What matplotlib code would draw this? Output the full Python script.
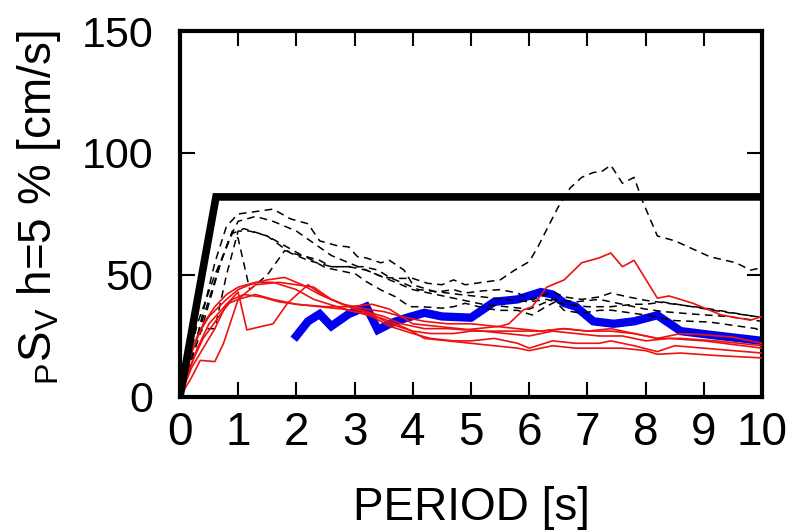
import matplotlib
matplotlib.use("Agg")
import matplotlib.pyplot as plt
from matplotlib import font_manager

# design spectrum (thick black)
design_T = [0.0, 0.62, 10.0]
design_V = [0, 82, 82]

# thick blue line
blue_T = [2.0, 2.2, 2.4, 2.6, 2.9, 3.2, 3.4, 3.65, 3.9, 4.2, 4.5, 5.0, 5.4, 5.8, 6.2,
          6.4, 6.6, 6.8, 7.1, 7.45, 7.8, 8.2, 8.6, 9.1, 10.0]
blue_V = [25, 31, 34, 29, 34, 37, 27.5, 30.5, 32.5, 34.5, 33, 32.5, 39, 40, 43,
          42, 38.5, 37, 31, 30, 31, 33.5, 27, 25.5, 23]

# black dashed lines
dashA_T = [0, 0.3, 0.6, 0.8, 1.0, 1.3, 1.6, 1.9, 2.2, 2.4, 2.7, 2.9, 3.05, 3.2, 3.45, 3.6,
           3.85, 4.0, 4.4, 4.7, 4.9, 5.2, 5.5, 5.8, 6.05, 6.4, 6.6, 6.9, 7.2, 7.4, 7.7,
           8.0, 8.5, 9.0, 9.5, 10]
dashA_V = [0, 25, 55, 70, 75, 76, 77, 73, 71, 64, 62, 61.5, 57.5, 57, 55, 56,
           52, 46, 43, 44, 42.6, 43.5, 44, 42.6, 39.8, 43.2, 41, 40, 41, 42.6, 41,
           39.6, 38, 36.5, 34.5, 32.5]

dashB_T = [0, 0.3, 0.6, 0.9, 1.1, 1.5, 1.9, 2.2, 2.6, 2.9, 3.2, 3.5, 3.8, 4.0, 4.25,
           4.5, 4.7, 4.9, 5.2, 5.5, 5.75, 6.0, 6.15, 6.35, 6.5, 6.7, 6.9, 7.1, 7.25,
           7.4, 7.6, 7.8, 7.95, 8.2, 8.5, 9.1, 9.55, 9.8, 10.0]
dashB_V = [0, 30, 50, 67, 69, 66, 59, 56, 53.4, 53.4, 52, 49, 48.6, 48.6, 46.6,
           46, 48, 46, 47, 48, 52, 55.5, 61.6, 71, 78, 85.6, 90, 92, 92.5,
           95, 87.6, 90, 80, 66, 64, 57.5, 55, 52, 53]

dashC_T = [0, 0.4, 0.7, 0.9, 1.0, 1.2, 1.5, 1.8, 2.2, 2.5, 2.9, 3.0, 3.2, 3.45, 3.7,
           3.95, 4.15, 4.5, 4.7, 4.9, 5.25, 5.5, 5.8, 6.05, 6.3, 6.45, 6.6, 6.9, 7.2,
           7.4, 8.0, 8.5, 9.1, 9.9, 10]
dashC_V = [0, 30, 55, 68, 65, 44, 50, 60, 57, 53, 51, 50.7, 47.3, 43.9, 41.1,
           37, 37, 36.4, 37, 38.4, 36.3, 35.5, 35.5, 33.6, 37.2, 39, 35.5, 34.3, 35.5,
           35.6, 33.6, 31.3, 30.7, 28, 26]

dashD_T = [0, 0.2, 0.4, 0.6, 0.8, 1.0, 1.2, 1.5, 1.8, 2.1, 2.4, 2.6, 2.9, 3.15, 3.4,
           3.6, 3.8, 4.1, 4.4, 4.8, 5.2, 5.6, 6.0, 6.3, 6.6, 7.0, 7.4, 7.8, 8.0, 8.3,
           8.8, 9.3, 10]
dashD_V = [0, 22, 28, 28, 50, 68, 68, 66, 62, 58, 56, 53.4, 53.4, 53.4, 52,
           49, 47, 44, 43.2, 42, 41, 40, 39, 40, 38, 37, 37, 38, 38, 38.9,
           37, 35, 32.6]

dashE_T = [0, 0.3, 0.5, 0.7, 0.85, 1.0, 1.3, 1.6, 2.0, 2.3, 2.6, 3.0, 3.4, 3.7, 4.0,
           4.4, 4.8, 5.2, 5.6, 6.0, 6.4, 6.8, 7.2, 7.6, 8.0, 8.3, 8.8, 9.4, 10]
dashE_V = [0, 25, 40, 55, 65, 72, 74, 72, 68, 63, 58, 54, 50, 47, 44,
           42, 40, 38, 37, 36, 40, 39, 40, 38, 36, 35, 34, 33, 31]

# thin red lines
red1_T = [0, 0.2, 0.4, 0.6, 0.8, 1.0, 1.15, 1.6, 1.85, 2.2, 2.5, 2.8, 3.2, 3.5, 3.8,
          4.2, 4.6, 4.9, 5.5, 5.65, 5.9, 6.05, 6.3, 6.6, 6.9, 7.2, 7.4, 7.6, 7.8,
          8.2, 8.4, 8.8, 9.3, 9.8, 10]
red1_V = [0, 12, 20, 28, 38, 43, 27.5, 30, 38.5, 46, 41, 38, 35, 33, 30,
          28, 28, 27.5, 29, 30, 35.7, 37, 45, 48, 55, 57, 59, 53.4, 56,
          40.5, 41.4, 38.5, 33.6, 31.5, 33]

red2_T = [0, 0.2, 0.35, 0.6, 0.75, 1.0, 1.3, 1.7, 2.0, 2.3, 2.6, 3.0, 3.3, 3.6, 4.0,
          4.3, 4.7, 5.0, 5.4, 5.8, 6.2, 6.6, 7.0, 7.4, 7.8, 8.2, 8.6, 9.0, 9.5, 10]
red2_V = [0, 8, 15, 14.5, 22, 40, 46, 47, 46, 45, 40, 36, 34, 30, 27,
          26, 26, 27, 27, 27, 27, 28, 27, 28, 26, 24, 26, 25.5, 24.5, 22]

red3_T = [0, 0.15, 0.3, 0.5, 0.8, 1.0, 1.2, 1.5, 1.8, 2.1, 2.4, 2.8, 3.2, 3.5, 3.8,
          4.2, 4.6, 5.0, 5.4, 5.8, 6.2, 6.6, 7.0, 7.4, 7.8, 8.2, 8.6, 9.2, 10]
red3_V = [0, 15, 25, 33, 40, 44, 46, 48, 49, 46, 42, 38, 36, 35, 33,
          31, 30, 30, 29, 28, 27, 28, 27, 27, 26, 24, 24, 23, 21]

red4_T = [0, 0.2, 0.4, 0.6, 0.8, 1.0, 1.3, 1.6, 2.0, 2.3, 2.7, 3.0, 3.3, 3.6, 4.0,
          4.3, 4.7, 5.0, 5.4, 5.8, 6.0, 6.4, 6.8, 7.2, 7.4, 7.8, 8.2, 8.5, 9.0, 9.5, 10]
red4_V = [0, 18, 30, 37, 42, 45, 47, 47, 44, 40, 37, 35, 33, 29, 26,
          24, 23, 23, 24, 22, 20, 23, 22, 22, 23, 21, 18.6, 21, 20, 19, 18]

red5_T = [0, 0.2, 0.4, 0.7, 0.9, 1.1, 1.4, 1.7, 2.0, 2.4, 2.8, 3.2, 3.5, 3.9, 4.2,
          4.6, 5.0, 5.4, 5.8, 6.0, 6.4, 6.8, 7.2, 7.6, 8.0, 8.2, 8.6, 9.2, 10]
red5_V = [0, 14, 24, 34, 40, 42, 41, 39, 38, 37, 36, 34, 32, 28, 24,
          23, 22, 21, 20, 19, 21, 20, 20, 20, 19, 17.5, 18, 17, 16]

red6_T = [0, 0.3, 0.5, 0.8, 1.0, 1.3, 1.6, 2.0, 2.5, 2.9, 3.3, 3.6, 4.0, 4.4, 4.8,
          5.2, 5.6, 6.0, 6.4, 6.8, 7.2, 7.6, 8.0, 8.4, 9.0, 10]
red6_V = [0, 20, 30, 38, 40, 42, 40, 38, 37, 37, 38, 36, 30, 29, 28,
          27, 26, 25, 27, 26, 25, 25, 23, 24, 23, 20]

x_ticks = list(range(0, 11))
y_ticks = [0, 50, 100, 150]


def have_font(name):
    try:
        font_manager.findfont(font_manager.FontProperties(family=name),
                              fallback_to_default=False)
        return True
    except ValueError:
        return False


base_font = "Liberation Sans" if have_font("Liberation Sans") else "DejaVu Sans"
plt.rcParams['font.family'] = [base_font, 'DejaVu Sans']

fig = plt.figure(figsize=(7.89, 5.31), dpi=100)
ax = fig.add_axes([0.228, 0.2524, 0.738, 0.6892])

dash = (0, (5, 3.5))
for t, v in [(dashA_T, dashA_V), (dashB_T, dashB_V), (dashC_T, dashC_V),
             (dashD_T, dashD_V), (dashE_T, dashE_V)]:
    ax.plot(t, v, color='black', linewidth=1.1, linestyle=dash, zorder=3)

ax.plot(blue_T, blue_V, color='#0000ee', linewidth=6, zorder=2,
        solid_joinstyle='miter')

for t, v in [(red1_T, red1_V), (red2_T, red2_V), (red3_T, red3_V),
             (red4_T, red4_V), (red5_T, red5_V), (red6_T, red6_V)]:
    ax.plot(t, v, color='#ee1111', linewidth=1.2, zorder=4)

ax.plot(design_T, design_V, color='black', linewidth=5.5, zorder=5,
        solid_joinstyle='miter')

ax.set_xlim(0, 10)
ax.set_ylim(0, 150)
ax.set_xticks(x_ticks)
ax.set_yticks(y_ticks)

for s in ax.spines.values():
    s.set_linewidth(3)
ax.tick_params(direction='in', length=11, width=1.5, top=True, right=True)
ax.tick_params(axis='y', labelsize=31, pad=19)
ax.tick_params(axis='x', labelsize=33, pad=10)

ax.set_xlabel("PERIOD [s]", fontsize=33)
ax.xaxis.set_label_coords(0.5, -0.243)
ax.set_ylabel(r"$\mathregular{_{P}S_{V}}$ h=5 % [cm/s]", fontsize=33)
ax.yaxis.set_label_coords(-0.2, 0.516)

fig.savefig("out.png", dpi=100)
